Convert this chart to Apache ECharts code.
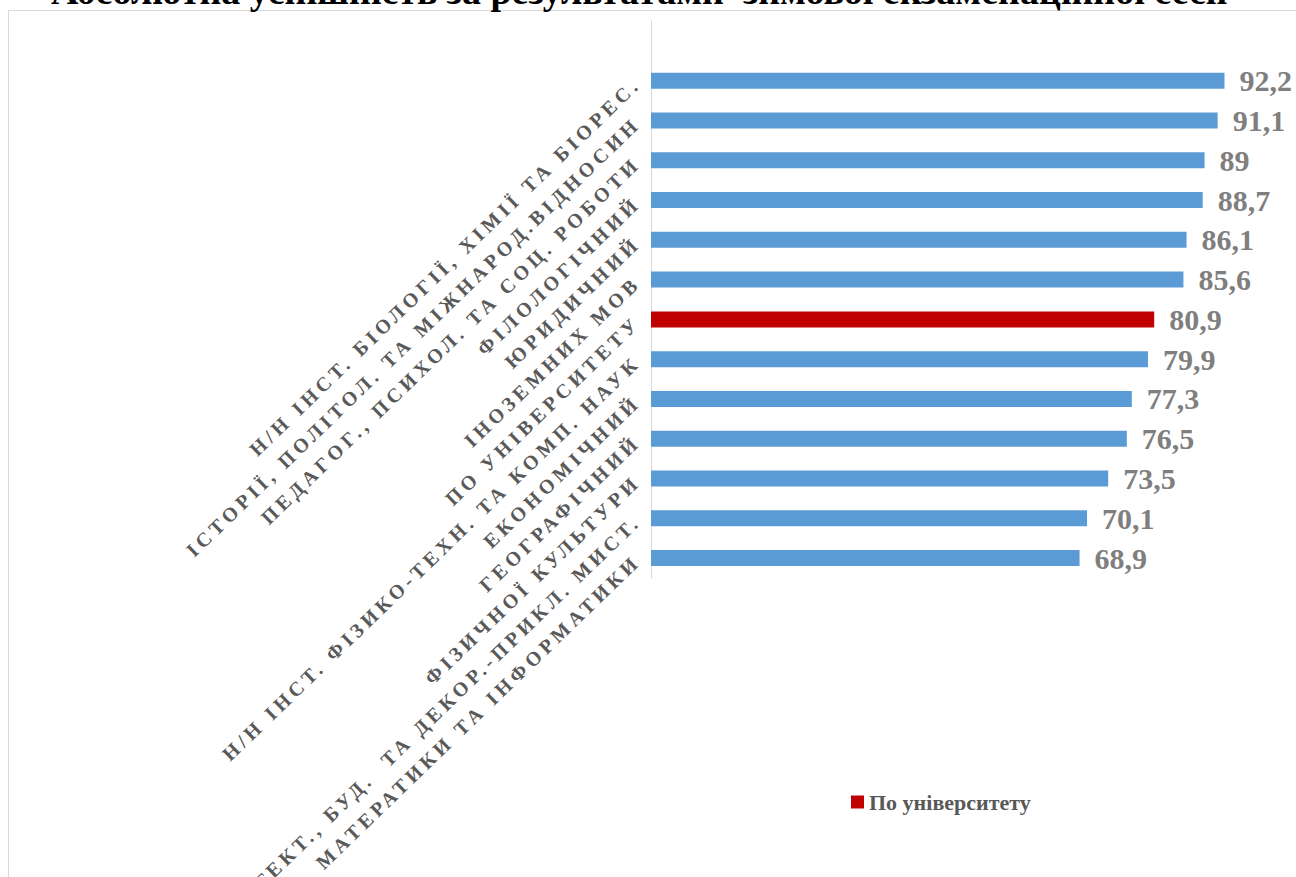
<!DOCTYPE html>
<html>
<head>
<meta charset="utf-8">
<script src="https://cdn.jsdelivr.net/npm/echarts@6/dist/echarts.min.js"></script>
<style>
html, body { margin: 0; padding: 0; background: #ffffff; }
#chart { width: 1296px; height: 877px; }
#chart text[fill="#595959"] { letter-spacing: 4.3px; }
</style>
</head>
<body>
<div id="chart"></div>
<script>
const titleText = 'Абсолютна успішність за результатами  зимової екзаменаційної сесії';
const categories = [
  'Н/Н ІНСТ. БІОЛОГІЇ, ХІМІЇ ТА БІОРЕС.',
  'ІСТОРІЇ, ПОЛІТОЛ. ТА МІЖНАРОД.ВІДНОСИН',
  'ПЕДАГОГ., ПСИХОЛ. ТА СОЦ. РОБОТИ',
  'ФІЛОЛОГІЧНИЙ',
  'ЮРИДИЧНИЙ',
  'ІНОЗЕМНИХ МОВ',
  'ПО УНІВЕРСИТЕТУ',
  'Н/Н ІНСТ. ФІЗИКО-ТЕХН. ТА КОМП. НАУК',
  'ЕКОНОМІЧНИЙ',
  'ГЕОГРАФІЧНИЙ',
  'ФІЗИЧНОЇ КУЛЬТУРИ',
  'АРХІТЕКТ., БУД.  ТА ДЕКОР.-ПРИКЛ. МИСТ.',
  'МАТЕРАТИКИ ТА ІНФОРМАТИКИ'
];
const values = [92.2, 91.1, 89, 88.7, 86.1, 85.6, 80.9, 79.9, 77.3, 76.5, 73.5, 70.1, 68.9];
const universityCategory = 'ПО УНІВЕРСИТЕТУ';
const universitySeriesName = 'По університету';

const axisCats = [''].concat(categories);
const facultyData = [null].concat(values.map((v, i) => categories[i] === universityCategory ? null : v));
const universityData = [null].concat(values.map((v, i) => categories[i] === universityCategory ? v : null));

const serif = "'Liberation Serif', 'Times New Roman', serif";
const labelCfg = {
  show: true,
  position: 'right',
  distance: 15,
  fontFamily: serif,
  fontWeight: 'bold',
  fontSize: 30,
  color: '#7f7f7f',
  formatter: p => (p.value == null ? '' : String(p.value).replace('.', ','))
};

const chart = echarts.init(document.getElementById('chart'), null, { renderer: 'svg' });
chart.setOption({
  animation: false,
  backgroundColor: '#ffffff',
  title: {
    text: titleText,
    left: 46,
    top: -33,
    textStyle: { fontFamily: serif, fontWeight: 'bold', fontSize: 38, color: '#000000' }
  },
  graphic: [{
    type: 'rect',
    z: 0,
    silent: true,
    shape: { x: 8.5, y: 10.5, width: 1400, height: 1000 },
    style: { fill: 'none', stroke: '#d9d9d9', lineWidth: 1 }
  }],
  legend: {
    data: [universitySeriesName],
    left: 846,
    top: 786,
    icon: 'rect',
    itemWidth: 13,
    itemHeight: 13,
    textStyle: { fontFamily: serif, fontWeight: 'bold', fontSize: 22, color: '#585858' }
  },
  grid: { left: 651, right: 23, top: 21, bottom: 299, containLabel: false },
  xAxis: { type: 'value', min: 0, max: 100, show: false },
  yAxis: {
    type: 'category',
    inverse: true,
    data: axisCats,
    axisLine: { show: true, lineStyle: { color: '#d9d9d9', width: 1 } },
    axisTick: { show: false },
    axisLabel: {
      interval: 0,
      rotate: 44,
      margin: 14,
      fontFamily: serif,
      fontWeight: 'bold',
      fontSize: 20,
      color: '#595959'
    }
  },
  series: [
    {
      name: 'Факультети',
      type: 'bar',
      stack: 'total',
      barWidth: 16,
      data: facultyData,
      itemStyle: { color: '#5b9bd5' },
      label: labelCfg
    },
    {
      name: universitySeriesName,
      type: 'bar',
      stack: 'total',
      barWidth: 16,
      data: universityData,
      itemStyle: { color: '#c00000' },
      label: labelCfg
    }
  ]
});
</script>
</body>
</html>
